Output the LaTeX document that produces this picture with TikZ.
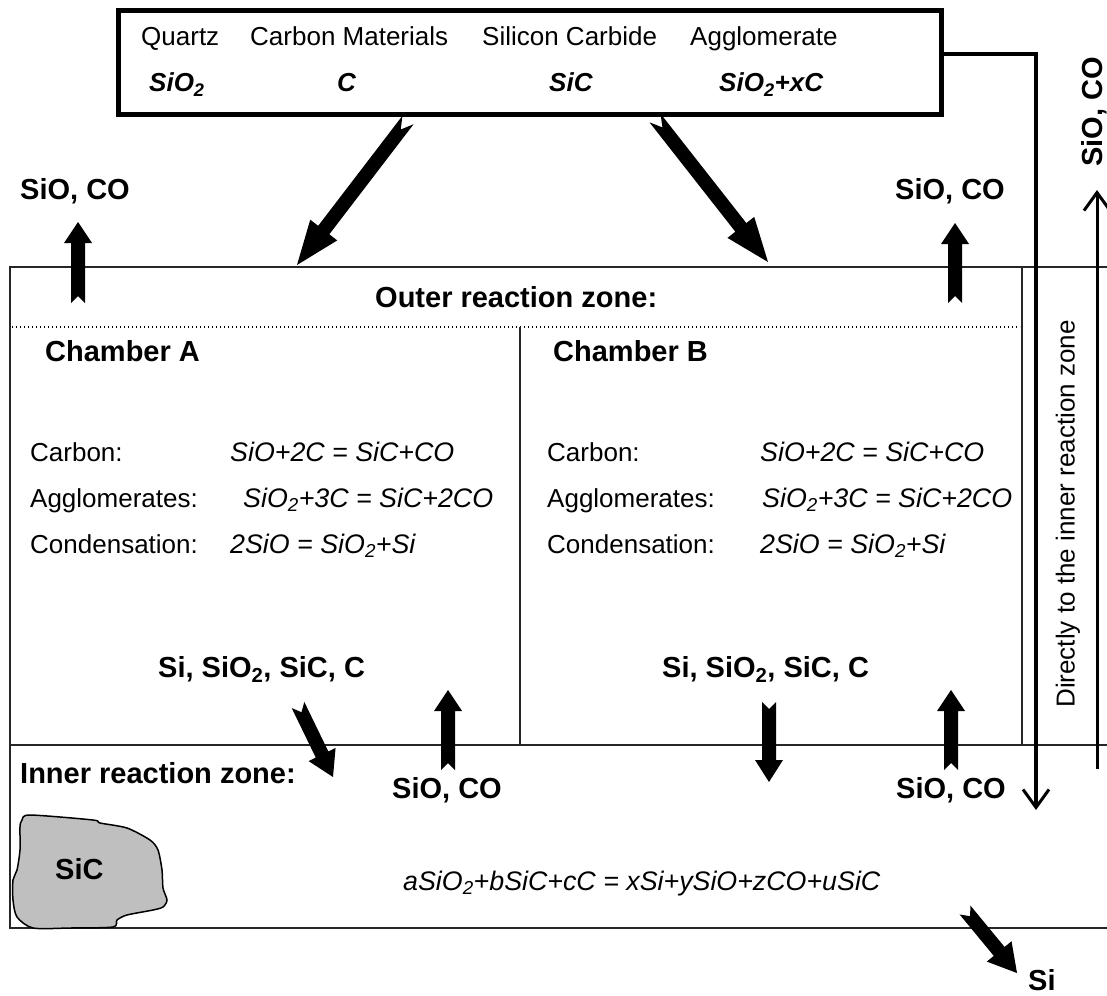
\documentclass[tikz,border=0pt]{standalone}
\usepackage{fontspec}
\setmainfont{Liberation Sans}
\usetikzlibrary{calc,arrows.meta}
% #1 tail, #2 tip, #3 shaft half width, #4 head half width, #5 head length, #6 notch depth
\newcommand{\blockarrow}[6]{%
  \coordinate (baH) at ($(#2)!#5!(#1)$);
  \fill[black] ($(#1)!#3!90:(#2)$) -- ($(baH)!#3!90:(#2)$) -- ($(baH)!#4!90:(#2)$) -- (#2)
    -- ($(baH)!#4!-90:(#2)$) -- ($(baH)!#3!-90:(#2)$) -- ($(#1)!#3!-90:(#2)$) -- ($(#1)!#6!(#2)$) -- cycle;
}
\tikzset{
  rg/.style={font=\fontsize{26}{30}\selectfont, inner sep=0pt, anchor=base west},
  it/.style={font=\fontsize{26.8}{30}\selectfont\itshape, inner sep=0pt, anchor=base west},
  bd/.style={font=\fontsize{29}{34}\selectfont\bfseries, inner sep=0pt, anchor=base west},
  bi/.style={font=\fontsize{26}{30}\selectfont\bfseries\itshape, inner sep=0pt, anchor=base west},
  zone/.style={line width=1.5pt, draw=black!85},
  flow/.style={line width=3.5pt, -{Straight Barb[length=18pt,width=26pt,line width=3pt]}},
}
\begin{document}
\begin{tikzpicture}[x=1pt,y=-1pt]
\useasboundingbox[fill=white] (0,0) rectangle (1107,995);

% feed box
\node (feed) [draw, line width=5pt, minimum width=823pt, minimum height=104pt, inner sep=0pt, anchor=north west] at (116,8) {};
\node (q)  [rg] at (141,46) {Quartz};
\node (cm) [rg] at (250,46) {Carbon Materials};
\node (sc) [rg] at (482,46) {Silicon Carbide};
\node (ag) [rg] at (690,46) {Agglomerate};
\node (q2)  [bi] at (149,92) {SiO\textsubscript{2}};
\node (cm2) [bi] at (337,92) {C};
\node (sc2) [bi] at (549,92) {SiC};
\node (ag2) [bi] at (719,92) {SiO\textsubscript{2}+xC};

% zone frame
\draw[zone] (1107,267) -- (10,267) -- (10,928) -- (1107,928);
\draw[zone] (10,745) -- (1107,745);
\draw[line width=1.3pt, dash pattern=on 1.3pt off 2.7pt] (12,327) -- (1020,327);
\draw[zone] (520,327) -- (520,745);
\draw[zone] (1022,267) -- (1022,745);

% bypass arrows
\coordinate (bend) at (1036,54);
\coordinate (inz) at (1036,810);
\draw[flow] (feed.east |- bend) -- (bend) -- (inz);
\coordinate (up0) at (1097,769);
\coordinate (up1) at (1097,190);
\draw[flow, line width=3pt] (up0) -- (up1);
\node (dir) [font=\fontsize{26}{30}\selectfont, rotate=90] at (1068,514) {Directly to the inner reaction zone};
\node (gasr) [font=\fontsize{29}{34}\selectfont\bfseries, rotate=90, inner sep=0pt] at (1094,112) {SiO, CO};

% labels
\node (g1) [bd] at (20,200) {SiO, CO};
\node (g2) [bd] at (895,200) {SiO, CO};
\node (orz) [bd] at (375,307) {Outer reaction zone:};
\node (chA) [bd] at (45,361) {Chamber A};
\node (chB) [bd] at (553,361) {Chamber B};

\node (a1l) [rg] at (30,461) {Carbon:};
\node (a2l) [rg] at (30,507) {Agglomerates:};
\node (a3l) [rg] at (30,553) {Condensation:};
\node (a1e) [it] at (230,461) {SiO+2C = SiC+CO};
\node (a2e) [it] at (243,507) {SiO\textsubscript{2}+3C = SiC+2CO};
\node (a3e) [it] at (230,553) {2SiO = SiO\textsubscript{2}+Si};

\node (b1l) [rg] at (547,461) {Carbon:};
\node (b2l) [rg] at (547,507) {Agglomerates:};
\node (b3l) [rg] at (547,553) {Condensation:};
\node (b1e) [it] at (760,461) {SiO+2C = SiC+CO};
\node (b2e) [it] at (762,507) {SiO\textsubscript{2}+3C = SiC+2CO};
\node (b3e) [it] at (760,553) {2SiO = SiO\textsubscript{2}+Si};

\node (pA) [bd] at (158,677) {Si, SiO\textsubscript{2}, SiC, C};
\node (pB) [bd] at (662,677) {Si, SiO\textsubscript{2}, SiC, C};
\node (irz) [bd] at (20,783) {Inner reaction zone:};
\node (g3) [bd] at (392,798) {SiO, CO};
\node (g4) [bd] at (896,798) {SiO, CO};

% SiC lump
\draw[line width=1.5pt, fill=black!25] plot[smooth cycle, tension=0.45] coordinates {
 (22,820) (30,815) (93,820) (100,823) (127,828) (150,840) (158,850) (162,870) (163,888)
 (167,900) (163,907) (153,910) (127,915) (117,920) (113,927) (70,928) (33,928) (17,917)
 (13,900) (13,880) (17,870) (20,850) (20,827)};
\node (sic) [bd] at (55,879) {SiC};
\node (eq) [it] at (403,890) {aSiO\textsubscript{2}+bSiC+cC = xSi+ySiO+zCO+uSiC};
\node (si) [bd] at (1028,990) {Si};

% block arrows
\coordinate (a1t) at (408,120); \coordinate (a1h) at (297,265);
\blockarrow{a1t}{a1h}{7pt}{17pt}{44pt}{12pt}
\coordinate (a2t) at (655,118); \coordinate (a2h) at (768,262);
\blockarrow{a2t}{a2h}{7pt}{17pt}{44pt}{12pt}
\coordinate (a3t) at (78,303); \coordinate (a3h) at (78,222);
\blockarrow{a3t}{a3h}{7pt}{14pt}{21pt}{7pt}
\coordinate (a4t) at (955,303); \coordinate (a4h) at (955,223);
\blockarrow{a4t}{a4h}{7pt}{14pt}{21pt}{7pt}
\coordinate (a5t) at (298,705); \coordinate (a5h) at (333,777);
\blockarrow{a5t}{a5h}{7pt}{15pt}{25pt}{8pt}
\coordinate (a6t) at (448,770); \coordinate (a6h) at (448,690);
\blockarrow{a6t}{a6h}{7pt}{14pt}{21pt}{7pt}
\coordinate (a7t) at (769,702); \coordinate (a7h) at (769,782);
\blockarrow{a7t}{a7h}{7pt}{14pt}{22pt}{7pt}
\coordinate (a8t) at (951,770); \coordinate (a8h) at (951,690);
\blockarrow{a8t}{a8h}{7pt}{14pt}{21pt}{7pt}
\coordinate (a9t) at (965,910); \coordinate (a9h) at (1017,973);
\blockarrow{a9t}{a9h}{7pt}{16pt}{28pt}{8pt}
\end{tikzpicture}
\end{document}
